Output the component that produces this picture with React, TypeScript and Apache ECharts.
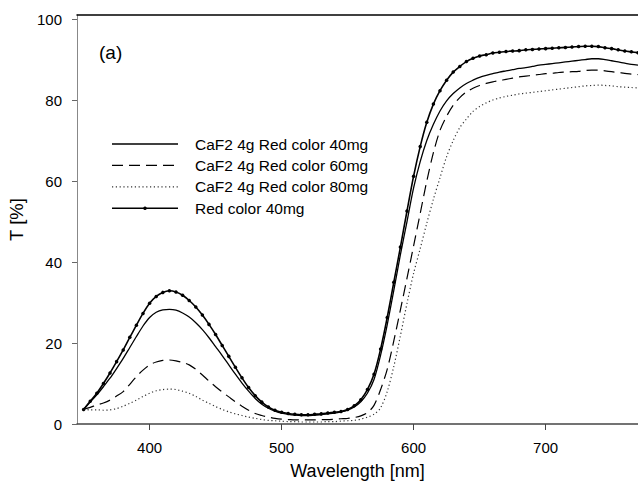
import React, { useEffect, useRef } from "react";
import * as echarts from "echarts";

const wavelengths = [
  350, 355, 360, 365, 370, 375, 380, 385, 390, 395,
  400, 405, 410, 415, 420, 425, 430, 435, 440, 445,
  450, 455, 460, 465, 470, 475, 480, 485, 490, 495,
  500, 505, 510, 515, 520, 525, 530, 535, 540, 545,
  550, 555, 560, 565, 570, 575, 580, 585, 590, 595,
  600, 605, 610, 615, 620, 625, 630, 635, 640, 645,
  650, 655, 660, 665, 670, 675, 680, 685, 690, 695,
  700, 705, 710, 715, 720, 725, 730, 735, 740, 745,
  750, 755, 760, 765, 770,
];

const caf2Red40 = [
  3.6, 5.4, 7.2, 9.2, 11.3, 13.7, 16.2, 18.9, 21.6, 24.2,
  26.3, 27.6, 28.2, 28.3, 28.1, 27.4, 26.4, 25.0, 23.3, 21.3,
  19.1, 16.9, 14.6, 12.3, 10.1, 8.1, 6.3, 4.9, 3.9, 3.2,
  2.7, 2.4, 2.2, 2.1, 2.1, 2.2, 2.3, 2.5, 2.7, 3.0,
  3.4, 4.2, 5.5, 7.6, 11.0, 17.0, 24.5, 33.0, 41.8, 50.0,
  58.3, 64.8, 70.0, 74.0, 77.3, 79.8, 81.6, 83.0, 84.1, 84.9,
  85.6, 86.1, 86.5, 86.9, 87.2, 87.5, 87.8, 88.0, 88.3, 88.6,
  88.8, 89.0, 89.2, 89.4, 89.6, 89.8, 90.0, 90.2, 90.2, 90.0,
  89.7, 89.4, 89.1, 88.8, 88.6,
];

const caf2Red60 = [
  3.6, 4.1, 4.7, 5.2, 5.9, 6.9, 8.0, 9.8, 11.7, 13.3,
  14.6, 15.3, 15.7, 15.8, 15.6, 15.2, 14.6, 13.5, 12.1, 10.6,
  9.2, 7.9, 6.7, 5.5, 4.4, 3.4, 2.6, 2.1, 1.7, 1.4,
  1.2, 1.1, 1.0, 1.0, 1.0, 1.0, 1.1, 1.1, 1.2, 1.3,
  1.4, 1.6, 2.0, 2.8, 4.6, 8.5, 13.5, 20.5, 28.2, 36.0,
  44.0, 52.0, 60.0, 67.0, 72.5, 76.0, 78.7, 80.6, 82.0, 82.9,
  83.6, 84.1, 84.5, 84.8, 85.1, 85.4, 85.7, 85.9, 86.1, 86.3,
  86.5, 86.6, 86.8, 86.9, 87.0, 87.1, 87.3, 87.4, 87.4, 87.2,
  87.0, 86.8, 86.6, 86.4, 86.3,
];

const caf2Red80 = [
  3.6, 3.5, 3.5, 3.4, 3.5, 3.8, 4.4, 5.1, 5.9, 6.8,
  7.6, 8.2, 8.5, 8.6, 8.5, 8.1, 7.6, 6.8, 5.9, 5.1,
  4.3, 3.6, 3.0, 2.5, 2.1, 1.7, 1.4, 1.1, 0.9, 0.8,
  0.7, 0.6, 0.6, 0.5, 0.5, 0.5, 0.5, 0.6, 0.6, 0.7,
  0.8, 0.9, 1.2, 1.7, 2.4, 4.0, 8.0, 14.2, 21.8, 29.8,
  37.2, 43.3, 49.6, 55.5, 60.8, 66.0, 70.0, 73.2, 75.3, 77.2,
  78.4, 79.3, 80.0, 80.5, 80.9, 81.2, 81.5, 81.7, 81.9, 82.1,
  82.3, 82.5, 82.7, 82.9, 83.1, 83.3, 83.5, 83.6, 83.7, 83.6,
  83.5, 83.3, 83.2, 83.1, 83.0,
];

const red40 = [
  3.6, 5.6, 7.6, 10.0, 12.6, 15.4, 18.3, 21.4, 24.4, 27.3,
  29.8, 31.5, 32.5, 32.9, 32.6, 31.8, 30.5, 28.9, 26.9, 24.6,
  22.1, 19.4, 16.7, 14.0, 11.4, 9.0, 7.0, 5.4, 4.2, 3.4,
  2.9, 2.6, 2.4, 2.3, 2.3, 2.4, 2.5, 2.7, 2.9, 3.1,
  3.6, 4.5, 6.0, 8.5, 12.3, 18.5, 26.3, 35.0, 43.7, 52.6,
  61.2, 68.5, 74.5, 79.0, 82.3, 84.9, 86.9, 88.3, 89.5, 90.3,
  90.9, 91.2, 91.6, 91.8, 92.0, 92.1, 92.2, 92.4, 92.5, 92.6,
  92.7, 92.8, 92.9, 93.0, 93.1, 93.2, 93.3, 93.3, 93.2, 92.9,
  92.7, 92.4, 92.1, 91.9, 91.7,
];

const seriesNames = [
  "CaF2 4g Red color 40mg",
  "CaF2 4g Red color 60mg",
  "CaF2 4g Red color 80mg",
  "Red color 40mg",
];

const xTicks = [400, 500, 600, 700];
const yTicks = [0, 20, 40, 60, 80, 100];

const FONT = "'Liberation Sans', Arial, sans-serif";

const pairs = (ys: number[]) => wavelengths.map((w, i) => [w, ys[i]]);

export default function App() {
  const ref = useRef<HTMLDivElement>(null);

  useEffect(() => {
    if (!ref.current) return;
    const chart = echarts.init(ref.current, null, { renderer: "svg" });

    const styles = [
      { width: 1.3, type: "solid" as any, color: "#000" },
      { width: 1.2, type: [11, 6] as any, color: "#000" },
      { width: 1.2, type: [1.2, 2.6] as any, color: "#333" },
      { width: 1.6, type: "solid" as any, color: "#000" },
    ];
    const datasets = [caf2Red40, caf2Red60, caf2Red80, red40];

    const legendX1 = 112;
    const legendX2 = 178;
    const legendTop = 144;
    const legendStep = 21.4;
    const legendGraphics: any[] = [];
    seriesNames.forEach((name, i) => {
      const y = legendTop + i * legendStep;
      legendGraphics.push({
        type: "line",
        shape: { x1: legendX1, y1: y, x2: legendX2, y2: y },
        style: { stroke: styles[i].color, lineWidth: styles[i].width, lineDash: Array.isArray(styles[i].type) ? styles[i].type : null },
        silent: true,
      });
      if (i === 3) {
        legendGraphics.push({
          type: "circle",
          shape: { cx: (legendX1 + legendX2) / 2, cy: y, r: 1.8 },
          style: { fill: "#000" },
          silent: true,
        });
      }
      legendGraphics.push({
        type: "text",
        x: 195,
        y: y,
        style: { text: name, fill: "#000", font: `15.5px ${FONT}`, textVerticalAlign: "middle", verticalAlign: "middle" },
        silent: true,
      });
    });

    chart.setOption({
      animation: false,
      backgroundColor: "#fff",
      textStyle: { fontFamily: FONT },
      grid: { left: 77, right: 0, top: 15, bottom: 60, containLabel: false, outerBoundsMode: "none" },
      xAxis: [
        {
          type: "value",
          min: 345,
          max: 770,
          name: "Wavelength [nm]",
          nameLocation: "middle",
          nameGap: 38,
          nameTextStyle: { fontSize: 18, color: "#000", fontFamily: FONT },
          axisLine: { show: true, lineStyle: { color: "#444", width: 1.5 } },
          axisTick: { show: true, inside: false, length: 6, customValues: xTicks, lineStyle: { color: "#444", width: 1 } },
          axisLabel: { customValues: xTicks, margin: 16, fontSize: 15, color: "#000", fontFamily: FONT },
          splitLine: { show: false },
        },
        {
          type: "value",
          position: "top",
          min: 345,
          max: 770,
          axisLine: { show: true, lineStyle: { color: "#000", width: 1.5 } },
          axisTick: { show: false },
          axisLabel: { show: false },
          splitLine: { show: false },
        },
      ],
      yAxis: {
        type: "value",
        min: 0,
        max: 101,
        name: "T [%]",
        nameLocation: "middle",
        nameGap: 46,
        nameTextStyle: { fontSize: 18.5, color: "#000", fontFamily: FONT },
        axisLine: { show: true, lineStyle: { color: "#888", width: 1 } },
        axisTick: { show: true, inside: false, length: 5, customValues: yTicks, lineStyle: { color: "#666", width: 1 } },
        axisLabel: { customValues: yTicks, margin: 15, fontSize: 15, color: "#000", fontFamily: FONT },
        splitLine: { show: false },
      },
      graphic: [
        {
          type: "text",
          left: 99,
          top: 43,
          style: { text: "(a)", fill: "#000", font: `19px ${FONT}` },
          silent: true,
        },
        ...legendGraphics,
      ],
      series: seriesNames.map((name, i) => ({
        name,
        type: "line",
        xAxisIndex: 0,
        data: pairs(datasets[i]),
        smooth: 0.3,
        showSymbol: i === 3,
        showAllSymbol: true,
        symbol: i === 3 ? "circle" : "none",
        symbolSize: 3.5,
        itemStyle: { color: "#000" },
        lineStyle: { color: styles[i].color, width: styles[i].width, type: styles[i].type },
        z: 10 - i,
      })),
    });

    return () => chart.dispose();
  }, []);

  return (
    <div
      ref={ref}
      style={{ position: "fixed", left: 0, top: 0, width: 638, height: 484, background: "#fff" }}
    />
  );
}
